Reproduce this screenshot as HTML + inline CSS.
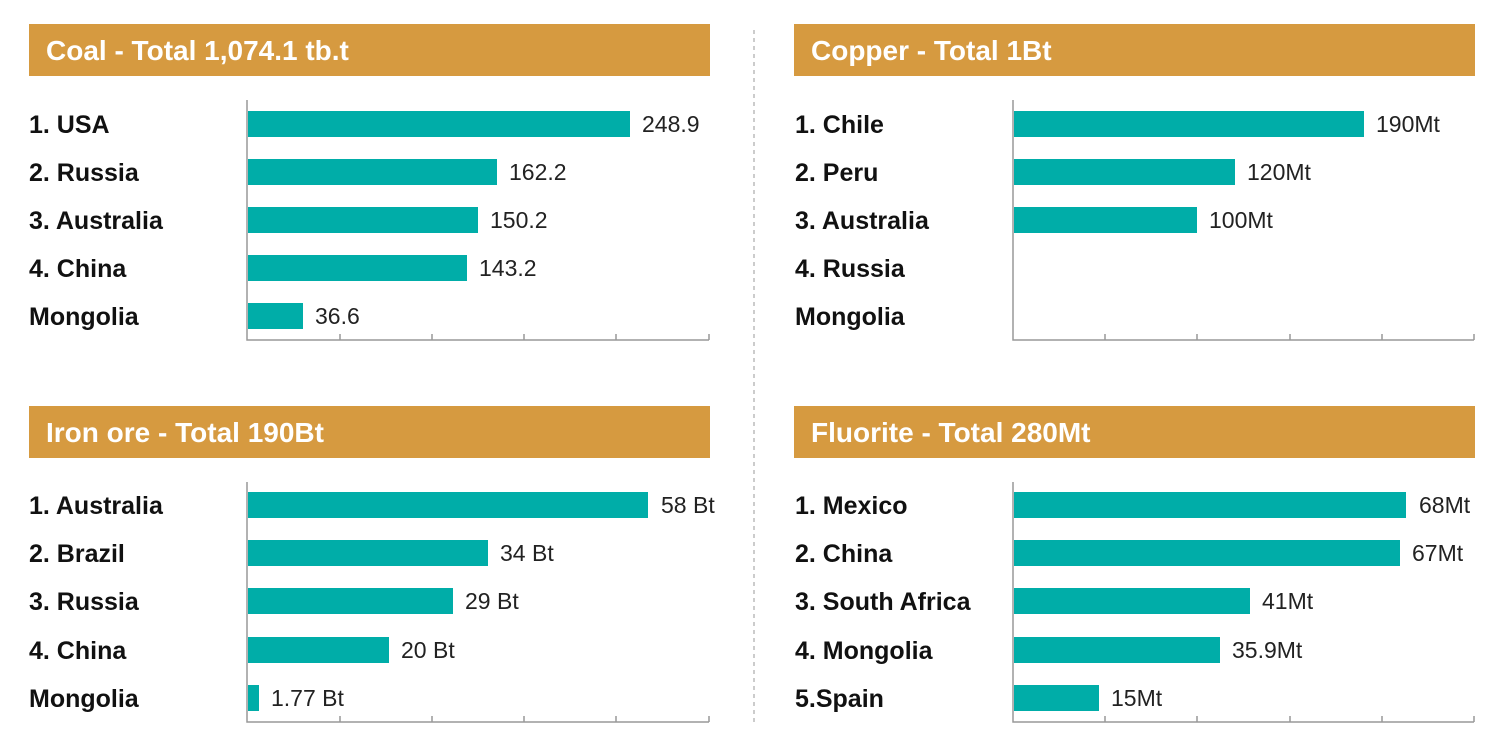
<!DOCTYPE html>
<html><head><meta charset="utf-8"><style>
html,body{margin:0;padding:0;background:#fff;}
svg{display:block;}
.h{font-family:"Liberation Sans",sans-serif;font-weight:bold;font-size:28px;fill:#fff;}
.l{font-family:"Liberation Sans",sans-serif;font-weight:bold;font-size:25px;fill:#111;}
.v{font-family:"Liberation Sans",sans-serif;font-size:23px;fill:#222;}
</style></head><body>
<svg width="1500" height="750" viewBox="0 0 1500 750" xmlns="http://www.w3.org/2000/svg">
<line x1="754" y1="30" x2="754" y2="722" stroke="#bbb" stroke-width="1.5" stroke-dasharray="4,4"/>
<g fill="#D69A40">
<rect x="29" y="24" width="681" height="52"/><rect x="794" y="24" width="681" height="52"/>
<rect x="29" y="406" width="681" height="52"/><rect x="794" y="406" width="681" height="52"/>
</g>
<text class="h" x="46" y="60">Coal - Total 1,074.1 tb.t</text>
<text class="h" x="811" y="60">Copper - Total 1Bt</text>
<text class="h" x="46" y="442">Iron ore - Total 190Bt</text>
<text class="h" x="811" y="442">Fluorite - Total 280Mt</text>
<g stroke="#999" stroke-width="1.5" fill="none">
<path d="M247 100V340H709M340 340v-6M432 340v-6M524 340v-6M616 340v-6M709 340v-6"/>
<path d="M1013 100V340H1474M1105 340v-6M1197 340v-6M1290 340v-6M1382 340v-6M1474 340v-6"/>
<path d="M247 482V722H709M340 722v-6M432 722v-6M524 722v-6M616 722v-6M709 722v-6"/>
<path d="M1013 482V722H1474M1105 722v-6M1197 722v-6M1290 722v-6M1382 722v-6M1474 722v-6"/>
</g>
<g fill="#00ADA8">
<rect x="248" y="111" width="382" height="26"/><rect x="248" y="159" width="249" height="26"/><rect x="248" y="207" width="230" height="26"/><rect x="248" y="255" width="219" height="26"/><rect x="248" y="303" width="55" height="26"/>
<rect x="1014" y="111" width="350" height="26"/><rect x="1014" y="159" width="221" height="26"/><rect x="1014" y="207" width="183" height="26"/>
<rect x="248" y="492" width="400" height="26"/><rect x="248" y="540" width="240" height="26"/><rect x="248" y="588" width="205" height="26"/><rect x="248" y="637" width="141" height="26"/><rect x="248" y="685" width="11" height="26"/>
<rect x="1014" y="492" width="392" height="26"/><rect x="1014" y="540" width="386" height="26"/><rect x="1014" y="588" width="236" height="26"/><rect x="1014" y="637" width="206" height="26"/><rect x="1014" y="685" width="85" height="26"/>
</g>
<g class="l">
<text x="29" y="133">1. USA</text><text x="29" y="181">2. Russia</text><text x="29" y="229">3. Australia</text><text x="29" y="277">4. China</text><text x="29" y="325">Mongolia</text>
<text x="795" y="133">1. Chile</text><text x="795" y="181">2. Peru</text><text x="795" y="229">3. Australia</text><text x="795" y="277">4. Russia</text><text x="795" y="325">Mongolia</text>
<text x="29" y="514">1. Australia</text><text x="29" y="562">2. Brazil</text><text x="29" y="610">3. Russia</text><text x="29" y="659">4. China</text><text x="29" y="707">Mongolia</text>
<text x="795" y="514">1. Mexico</text><text x="795" y="562">2. China</text><text x="795" y="610">3. South Africa</text><text x="795" y="659">4. Mongolia</text><text x="795" y="707">5.Spain</text>
</g>
<g class="v">
<text x="642" y="132">248.9</text><text x="509" y="180">162.2</text><text x="490" y="228">150.2</text><text x="479" y="276">143.2</text><text x="315" y="324">36.6</text>
<text x="1376" y="132">190Mt</text><text x="1247" y="180">120Mt</text><text x="1209" y="228">100Mt</text>
<text x="661" y="513">58 Bt</text><text x="500" y="561">34 Bt</text><text x="465" y="609">29 Bt</text><text x="401" y="658">20 Bt</text><text x="271" y="706">1.77 Bt</text>
<text x="1419" y="513">68Mt</text><text x="1412" y="561">67Mt</text><text x="1262" y="609">41Mt</text><text x="1232" y="658">35.9Mt</text><text x="1111" y="706">15Mt</text>
</g>
</svg>
</body></html>
